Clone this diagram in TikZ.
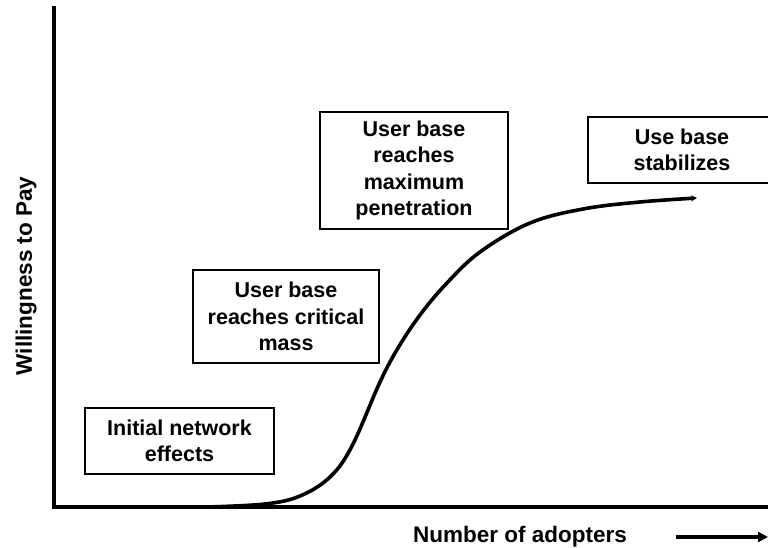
\documentclass[tikz,border=0pt]{standalone}
\usepackage{fontspec}
\setmainfont{Liberation Sans}
\usetikzlibrary{arrows.meta}
\tikzset{
  stagebox/.style={draw=black, line width=1.4pt, fill=white, align=center,
    inner sep=0pt, font=\fontsize{21.5}{26.5}\selectfont\bfseries},
  axisline/.style={line width=4pt, line cap=rect},
  growth/.style={line width=3.6pt, line cap=round, line join=round},
  axislabel/.style={font=\fontsize{22.5}{27}\selectfont\bfseries, inner sep=0pt}
}
\begin{document}
\begin{tikzpicture}[x=1pt, y=-1pt]
  \useasboundingbox (0,0) rectangle (768,548);
  \clip (0,0) rectangle (768,548);

  % axes
  \coordinate (origin) at (54,507);
  \coordinate (ytop) at (54,8);
  \coordinate (xend) at (770,507);
  \draw[axisline] (ytop) -- (origin) -- (xend);

  % adoption curve
  \draw[growth, -{Stealth[length=6pt, width=6pt]}]
    plot[smooth, tension=0.6] coordinates {
      (207,507) (265,504) (300,496) (330,477) (352,446)
      (380,382) (398,348) (420,315) (446,284) (480,252)
      (530,223) (583,209) (640,202) (697,198)};

  % stage boxes
  \node[stagebox, minimum width=189pt, minimum height=66pt] (initial)
    at (179.5,441) {Initial network\\effects};
  \node[stagebox, minimum width=186pt, minimum height=93pt] (critical)
    at (286,316.5) {User base\\reaches critical\\mass};
  \node[stagebox, minimum width=188pt, minimum height=117pt] (maximum)
    at (414,170.5) {User base\\reaches\\maximum\\penetration};
  \node[stagebox, minimum width=188pt, minimum height=66pt] (stable)
    at (682,150) {Use base\\stabilizes};

  % axis labels
  \node[axislabel, rotate=90] (ylabel) at (26,276) {Willingness to Pay};
  \node[axislabel] (xlabel) at (520,537) {Number of adopters};
  \coordinate (arrstart) at (676,537);
  \coordinate (arrend) at (768,537);
  \draw[line width=3.2pt, -{Triangle[length=10pt, width=10pt]}] (arrstart) -- (arrend);
\end{tikzpicture}
\end{document}
